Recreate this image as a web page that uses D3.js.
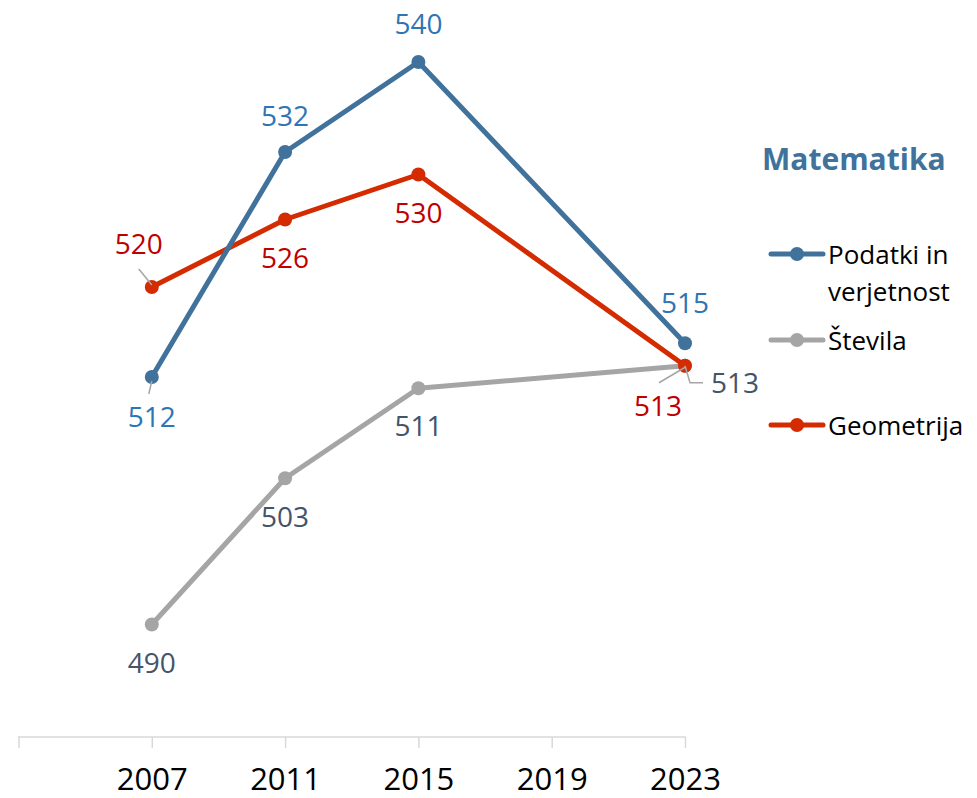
<!DOCTYPE html>
<html><head><meta charset="utf-8">
<script src="https://cdn.jsdelivr.net/npm/d3@7"></script>
<style>body{margin:0;background:#fff}svg{display:block}text{font-family:"Open Sans",sans-serif}</style>
</head><body><svg id="c" width="977" height="798"></svg>
<script>
const years = [2007, 2011, 2015, 2019, 2023];
const dataYears = [2007, 2011, 2015, 2023];
const podatki = [512, 532, 540, 515];
const stevila = [490, 503, 511, 513];
const geometrija = [520, 526, 530, 513];
const seriesNames = ["Podatki in verjetnost", "Števila", "Geometrija"];
const legendTitle = "Matematika";

const svg = d3.select("#c");
const x = d3.scaleLinear().domain([2003, 2023]).range([18.5, 685]);
const y = d3.scaleLinear().domain([480, 540]).range([737, 62]);

// axis
const axis = d3.axisBottom(x).tickValues([2003].concat(years)).tickSize(11).tickFormat(d => d === 2003 ? "" : d);
const ag = svg.append("g").attr("transform", "translate(0,737)").call(axis);
ag.select(".domain").attr("stroke", "#D9D9D9").attr("stroke-width", 1.5).attr("d", `M${x(2003)},0.5V0H${x(2023)}V0.5`);
ag.selectAll(".tick line").attr("stroke", "#D9D9D9").attr("stroke-width", 1.5);
ag.selectAll(".tick text").attr("y", 53).attr("dy", 0).attr("fill", "#000").style("font-size", "31px").style("font-family", "Open Sans");

const series = [
  {name: seriesNames[0], values: podatki, line: "#41729B", label: "#2E75B6",
   off: [[0, 50], [0, -26], [0, -28], [0, -30]], leaders: {0: [[0, 4], [-3, 17]]}},
  {name: seriesNames[1], values: stevila, line: "#A5A5A5", label: "#44546A",
   off: [[0, 48], [0, 49], [0, 48], [50, 27]], leaders: {3: [[0, 0], [5, 17], [18, 17]]}},
  {name: seriesNames[2], values: geometrija, line: "#D42B00", label: "#C00000",
   off: [[-13, -33], [0, 48], [0, 48], [-27, 50]], leaders: {0: [[0, -2], [-13, -18]], 3: [[1, 1], [-26, 17]]}}
];
const drawOrder = [1, 2, 0];
const line = d3.line().x(d => x(d[0])).y(d => y(d[1]));

drawOrder.forEach(i => {
  const s = series[i];
  const pts = dataYears.map((yr, j) => [yr, s.values[j]]);
  svg.append("path").attr("d", line(pts)).attr("fill", "none").attr("stroke", s.line).attr("stroke-width", 5).attr("stroke-linejoin", "round");
  svg.selectAll(null).data(pts).enter().append("circle")
    .attr("cx", d => x(d[0])).attr("cy", d => y(d[1])).attr("r", 7).attr("fill", s.line);
});
// leaders
series.forEach(s => {
  dataYears.forEach((yr, j) => {
    const L = s.leaders[j];
    if (!L) return;
    const px = x(yr), py = y(s.values[j]);
    svg.append("path").attr("d", d3.line()(L.map(p => [px + p[0], py + p[1]])))
      .attr("fill", "none").attr("stroke", "#A6A6A6").attr("stroke-width", 1.5);
  });
});
// labels
series.forEach(s => {
  dataYears.forEach((yr, j) => {
    svg.append("text").attr("x", x(yr) + s.off[j][0]).attr("y", y(s.values[j]) + s.off[j][1])
      .attr("text-anchor", "middle").attr("fill", s.label).style("font-size", "28px").text(s.values[j]);
  });
});

// legend
svg.append("text").attr("x", 762).attr("y", 170).attr("fill", "#41729B").style("font-size", "30px").style("font-weight", "bold").text(legendTitle);
const legRows = [
  {s: 0, ly: 254, lines: ["Podatki in", "verjetnost"]},
  {s: 1, ly: 340, lines: ["Števila"]},
  {s: 2, ly: 425, lines: ["Geometrija"]}
];
legRows.forEach(r => {
  const s = series[r.s];
  svg.append("line").attr("x1", 771).attr("x2", 823).attr("y1", r.ly).attr("y2", r.ly).attr("stroke", s.line).attr("stroke-width", 5).attr("stroke-linecap", "round");
  svg.append("circle").attr("cx", 797).attr("cy", r.ly).attr("r", 7).attr("fill", s.line);
  r.lines.forEach((t, k) => {
    svg.append("text").attr("x", 828).attr("y", r.ly + 10 + k * 37).attr("fill", "#000").style("font-size", "26px").text(t);
  });
});
</script></body></html>
